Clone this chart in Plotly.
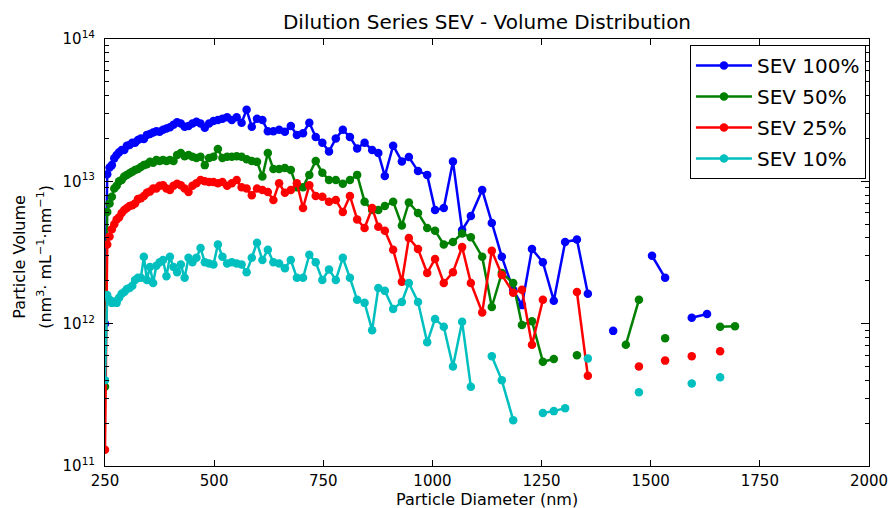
import plotly.graph_objects as go

N = None
diameter_nm = [
    250.0, 255.1, 260.4, 265.7, 271.2, 276.7, 282.4, 288.2, 294.1, 300.1,
    306.3, 312.5, 318.9, 325.5, 332.2, 339.0, 345.9, 353.0, 360.3, 367.6,
    375.2, 382.9, 390.7, 398.7, 406.9, 415.2, 423.7, 432.4, 441.3, 450.3,
    459.5, 468.9, 478.6, 488.4, 498.4, 508.6, 519.0, 529.7, 540.5, 551.6,
    562.9, 574.4, 586.2, 598.2, 610.5, 623.0, 635.7, 648.8, 662.1, 675.6,
    689.5, 703.6, 718.0, 732.7, 747.8, 763.1, 778.7, 794.7, 811.0, 827.6,
    844.6, 861.9, 876.0, 891.0, 910.0, 930.0, 946.0, 967.0, 988.0, 1006.0,
    1026.0, 1047.0, 1068.0, 1088.0, 1114.0, 1136.0, 1159.0, 1185.0, 1205.0, 1228.0,
    1253.0, 1278.0, 1304.0, 1331.0, 1356.0, 1386.0, 1414.0, 1443.0, 1473.0, 1503.0,
    1533.0, 1562.0, 1594.0, 1629.0, 1659.0, 1693.0,
]

sev_100 = [
    1.0e12, 1.12e13, 1.25e13, 1.3e13, 1.45e13, 1.53e13, 1.6e13, 1.66e13, 1.66e13, 1.78e13,
    1.8e13, 1.87e13, 1.87e13, 1.95e13, 2.0e13, 1.98e13, 2.12e13, 2.15e13, 2.2e13, 2.25e13,
    2.23e13, 2.3e13, 2.35e13, 2.4e13, 2.5e13, 2.6e13, 2.55e13, 2.42e13, 2.45e13, 2.55e13,
    2.62e13, 2.55e13, 2.38e13, 2.55e13, 2.65e13, 2.7e13, 2.75e13, 2.82e13, 2.7e13, 2.82e13,
    2.58e13, 3.18e13, 2.42e13, 2.75e13, 2.7e13, 2.25e13, 2.25e13, 2.3e13, 2.23e13, 2.45e13,
    2.12e13, 2.18e13, 2.58e13, 2.05e13, 1.87e13, 1.62e13, 2.0e13, 2.3e13, 2.05e13, 1.7e13,
    1.87e13, 1.66e13, 1.58e13, 1.09e13, 1.78e13, 1.38e13, 1.48e13, 1.18e13, 1.11e13, 6.3e12,
    6.5e12, 1.38e13, 4.55e12, 5.7e12, 8.7e12, 5.1e12, 2.95e12, 1.73e12, 1.35e12, 3.35e12,
    2.7e12, 1.45e12, 3.75e12, 3.9e12, 1.62e12, N, 8.9e11, N, N, 3.0e12,
    2.1e12, N, 1.1e12, 1.17e12, N, N,
]

sev_50 = [
    3.6e11, 6.1e12, 7.0e12, 7.8e12, 8.9e12, 9.3e12, 1.0e13, 1.02e13, 1.08e13, 1.11e13,
    1.14e13, 1.17e13, 1.2e13, 1.22e13, 1.26e13, 1.3e13, 1.32e13, 1.37e13, 1.35e13, 1.41e13,
    1.39e13, 1.41e13, 1.39e13, 1.41e13, 1.39e13, 1.53e13, 1.58e13, 1.5e13, 1.53e13, 1.49e13,
    1.46e13, 1.49e13, 1.3e13, 1.46e13, 1.49e13, 1.69e13, 1.46e13, 1.49e13, 1.49e13, 1.5e13,
    1.49e13, 1.43e13, 1.39e13, 1.37e13, 1.08e13, 1.58e13, 1.22e13, 1.22e13, 1.24e13, 1.2e13,
    9.1e12, 9.1e12, 1.11e13, 1.39e13, 1.15e13, 1.02e13, 1.02e13, 9.6e12, 1.02e13, 1.11e13,
    7.2e12, 6.3e12, 6.3e12, 6.7e12, 7.2e12, 4.9e12, 7.1e12, 6.0e12, 4.7e12, 4.5e12,
    3.6e12, 3.75e12, 4.3e12, 4.05e12, 2.95e12, 1.31e12, 2.27e12, 1.93e12, 9.8e11, 1.04e12,
    5.4e11, 5.65e11, N, 6.0e11, N, N, N, 7.1e11, 1.47e12, N,
    7.9e11, N, N, N, 9.5e11, 9.6e11,
]

sev_25 = [
    1.3e11, 3.6e12, 4.1e12, 4.6e12, 5.0e12, 5.4e12, 5.6e12, 6.0e12, 6.3e12, 6.5e12,
    6.7e12, 6.8e12, 7.0e12, 7.5e12, 7.6e12, 7.9e12, 8.3e12, 8.5e12, 8.9e12, 8.9e12,
    9.3e12, 9.4e12, 8.9e12, 8.7e12, 9.3e12, 9.6e12, 9.4e12, 8.9e12, 8.4e12, 9.3e12,
    9.7e12, 1.02e13, 1.0e13, 9.9e12, 9.9e12, 9.7e12, 9.9e12, 9.3e12, 9.7e12, 1.02e13,
    9.1e12, 8.9e12, 8.0e12, 8.9e12, 8.7e12, 8.4e12, 7.4e12, 9.7e12, 8.3e12, 8.7e12,
    9.7e12, 6.5e12, 9.4e12, 7.9e12, 7.8e12, 7.2e12, 7.4e12, 6.1e12, 7.9e12, 5.4e12,
    4.7e12, 6.5e12, 4.8e12, 4.5e12, 3.3e12, 1.97e12, 4.0e12, 3.35e12, 2.27e12, 2.85e12,
    1.93e12, 2.3e12, 3.45e12, 1.93e12, 1.2e12, 3.25e12, 2.2e12, 1.65e12, 1.73e12, 7.1e11,
    1.47e12, N, N, 1.67e12, 4.3e11, N, N, N, 5.0e11, N,
    5.5e11, N, 5.9e11, N, 6.4e11, N,
]

sev_10 = [
    4.0e11, 1.59e12, 1.47e12, 1.4e12, 1.43e12, 1.4e12, 1.52e12, 1.62e12, 1.67e12, 1.75e12,
    1.78e12, 1.85e12, 2.03e12, 2.1e12, 2.1e12, 2.95e12, 2.03e12, 2.5e12, 1.93e12, 2.55e12,
    2.7e12, 2.8e12, 2.15e12, 2.95e12, 2.5e12, 2.3e12, 2.6e12, 2.1e12, 2.9e12, 2.7e12,
    2.9e12, 3.4e12, 2.7e12, 2.65e12, 2.6e12, 3.6e12, 2.95e12, 2.65e12, 2.7e12, 2.65e12,
    2.6e12, 2.3e12, 2.9e12, 3.7e12, 2.8e12, 3.3e12, 2.7e12, 2.65e12, 2.45e12, 2.8e12,
    2.1e12, 2.1e12, 3.05e12, 2.7e12, 2.03e12, 2.4e12, 2.03e12, 2.9e12, 2.1e12, 1.47e12,
    1.4e12, 9.0e11, 1.78e12, 1.7e12, 1.27e12, 1.42e12, 1.93e12, 1.42e12, 7.4e11, 1.08e12,
    9.5e11, 5.0e11, 1.03e12, 3.6e11, N, 5.9e11, 4.0e11, 2.1e11, N, N,
    2.36e11, 2.43e11, 2.55e11, N, 5.7e11, N, N, N, 3.3e11, N,
    N, N, 3.8e11, N, 4.2e11, N,
]

series_names = ["SEV 100%", "SEV 50%", "SEV 25%", "SEV 10%"]
series_values = [sev_100, sev_50, sev_25, sev_10]
series_colors = ["#0000ff", "#008000", "#ff0000", "#00bfbf"]

x_ticks = [250, 500, 750, 1000, 1250, 1500, 1750, 2000]
y_ticks = [1e11, 1e12, 1e13, 1e14]
y_ticktext = ["10<sup>11</sup>", "10<sup>12</sup>", "10<sup>13</sup>", "10<sup>14</sup>"]
y_minor = [m * 10 ** e for e in (11, 12, 13) for m in range(2, 10)]

FONT = "DejaVu Sans"
W, H = 891, 508
ML, MR, MT, MB = 105, 22, 39, 42
PW, PH = W - ML - MR, H - MT - MB

fig = go.Figure()
for name, vals, col in zip(series_names, series_values, series_colors):
    fig.add_trace(go.Scatter(
        x=diameter_nm, y=vals, name=name, mode="lines+markers",
        line=dict(color=col, width=2.5),
        marker=dict(color=col, size=8.5),
        connectgaps=False, cliponaxis=True, legendgroup=name,
    ))

fig.update_layout(
    width=W, height=H,
    margin=dict(l=ML, r=MR, t=MT, b=MB, autoexpand=False),
    paper_bgcolor="white", plot_bgcolor="white",
    font=dict(family=FONT, size=15, color="black"),
    title=dict(text="Dilution Series SEV - Volume Distribution",
               x=0.5, xref="paper", xanchor="center",
               y=1 - 22 / H, yref="container", yanchor="middle",
               font=dict(size=20, family=FONT)),
    showlegend=True,
    legend=dict(x=0.996, xanchor="right", y=0.986, yanchor="top",
                bgcolor="white", bordercolor="black", borderwidth=1,
                font=dict(size=20, family=FONT), itemwidth=56,
                tracegroupgap=2),
    annotations=[
        dict(text="Particle Diameter (nm)", xref="paper", yref="paper",
             x=0.5, y=(466 - 499) / PH, xanchor="center", yanchor="middle",
             showarrow=False, font=dict(size=16, family=FONT)),
        dict(text="Particle Volume", xref="paper", yref="paper",
             x=(20 - ML) / PW, y=0.49, xanchor="center", yanchor="middle",
             textangle=-90, showarrow=False, font=dict(size=16, family=FONT)),
        dict(text="(nm<sup>3</sup>· mL<sup>−1</sup>·nm<sup>−1</sup>)",
             xref="paper", yref="paper",
             x=(45 - ML) / PW, y=0.49, xanchor="center", yanchor="middle",
             textangle=-90, showarrow=False, font=dict(size=16, family=FONT)),
    ],
)
fig.update_xaxes(
    range=[250, 2000], tickvals=x_ticks, ticks="inside", ticklen=6,
    tickcolor="black", mirror="ticks", showline=True, linecolor="black",
    linewidth=1, showgrid=False, zeroline=False, automargin=False,
    tickfont=dict(size=15), ticklabelstandoff=1,
)
fig.update_yaxes(
    type="log", range=[11, 14], tickvals=y_ticks, ticktext=y_ticktext,
    ticks="inside", ticklen=8, tickcolor="black", mirror="ticks",
    showline=True, linecolor="black", linewidth=1, showgrid=False,
    zeroline=False, automargin=False,
    minor=dict(tickvals=y_minor, ticks="inside", ticklen=4, tickcolor="black",
               showgrid=False),
    tickfont=dict(size=15), ticklabelstandoff=6,
)

fig.write_html(
    "out.html",
    config={"displayModeBar": False},
    post_script="document.body.style.margin='0';document.body.style.overflow='hidden';",
)
